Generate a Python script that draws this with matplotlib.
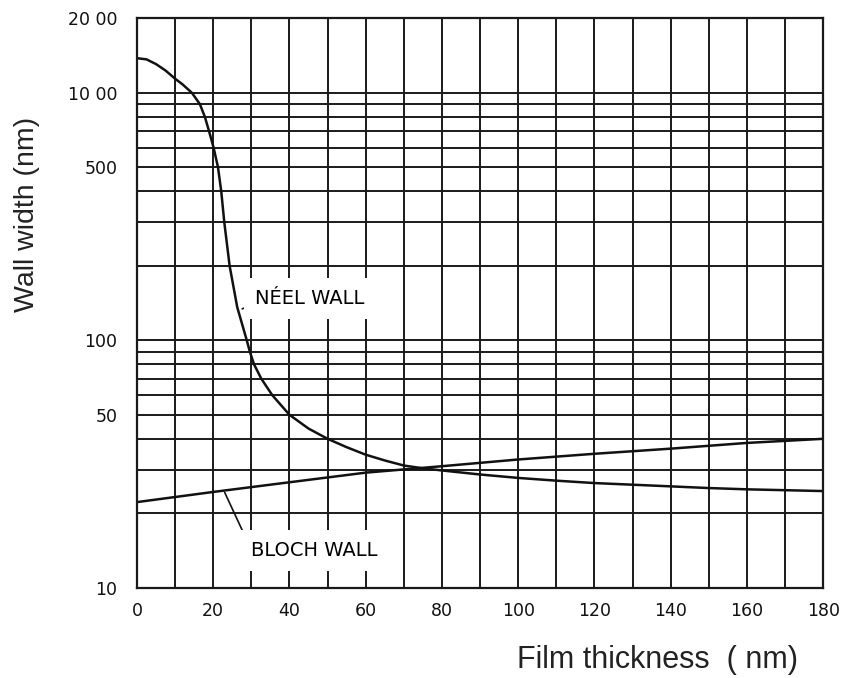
import matplotlib
matplotlib.use("Agg")
import matplotlib.pyplot as plt
import numpy as np

# film thickness (nm) vs wall width (nm)
neel_x = [0, 2.5, 5, 7.5, 10, 12, 14.4, 16.5, 17.8, 18.9, 20.1, 21.25, 22.1, 22.9, 24.3,
          26.3, 28.8, 29.6, 30.7, 32.6, 35.5, 40, 45, 50, 55, 60, 65, 70, 75, 80,
          90, 100, 110, 120, 130, 140, 150, 160, 170, 180]
neel_w = [1380, 1365, 1306, 1230, 1140, 1080, 1000, 900, 800, 700, 600, 500, 400, 300, 200,
          136, 100, 90, 80, 70, 60, 50, 44, 40, 37, 34.5, 32.7, 31.2, 30.4, 29.8,
          28.7, 27.8, 27.1, 26.5, 26.1, 25.7, 25.3, 25, 24.8, 24.6]

bloch_x = [0, 20, 40, 60, 80, 100, 120, 140, 160, 180]
bloch_w = [22.2, 24.4, 26.7, 29.2, 31, 33, 34.8, 36.5, 38.5, 40]

x_ticks = [0, 20, 40, 60, 80, 100, 120, 140, 160, 180]
x_minor = [10, 30, 50, 70, 90, 110, 130, 150, 170]
y_ticks = [10, 50, 100, 500, 1000, 2000]
y_labels = ["10", "50", "100", "500", "10 00", "20 00"]
y_minor = [20, 30, 40, 60, 70, 80, 90, 200, 300, 400, 600, 700, 800, 900]

fig = plt.figure(figsize=(8.43, 6.78), dpi=100)
ax = fig.add_axes([0.1625, 0.133, 0.814, 0.840])

ax.set_yscale("log")
ax.set_xlim(0, 180)
ax.set_ylim(10, 2000)

ax.set_xticks(x_ticks)
ax.set_xticks(x_minor, minor=True)
ax.set_yticks(y_ticks)
ax.set_yticklabels(y_labels)
ax.set_yticks(y_minor, minor=True)
ax.yaxis.set_minor_formatter(matplotlib.ticker.NullFormatter())
ax.tick_params(which="both", length=0, labelcolor="#111111")
ax.tick_params(axis="x", pad=10, labelsize=12.5)
ax.tick_params(axis="y", pad=14, labelsize=12.5)

ax.grid(which="both", color="#1a1a1a", linewidth=1.4)
ax.set_axisbelow(True)
for s in ax.spines.values():
    s.set_linewidth(1.6)
    s.set_color("#1a1a1a")

ax.plot(neel_x, neel_w, color="#111111", linewidth=1.8)
ax.plot(bloch_x, bloch_w, color="#111111", linewidth=1.8)

box = dict(facecolor="white", edgecolor="none", pad=8)
ax.annotate("NÉEL WALL", xy=(27.6, 134), xytext=(31.0, 148), fontsize=14,
            va="center", ha="left", bbox=box,
            arrowprops=dict(arrowstyle="-", color="#111111", lw=1.2,
                            patchA=None, relpos=(0, 0.2),
                            shrinkA=0, shrinkB=0))
ax.annotate("BLOCH WALL", xy=(23.0, 24.3), xytext=(29.8, 14.2), fontsize=14,
            va="center", ha="left", bbox=box,
            arrowprops=dict(arrowstyle="-", color="#111111", lw=1.2,
                            patchA=None, relpos=(0, 0.6),
                            shrinkA=0, shrinkB=0))

fig.text(0.032, 0.684, "Wall width (nm)", rotation=90, fontsize=20.5,
         family="Liberation Sans", ha="center", va="center", color="#222222")
fig.text(0.613, 0.027, "Film thickness  ( nm)", fontsize=22,
         family="Liberation Sans", ha="left", va="center", color="#222222")

fig.savefig("out.png", dpi=100)
